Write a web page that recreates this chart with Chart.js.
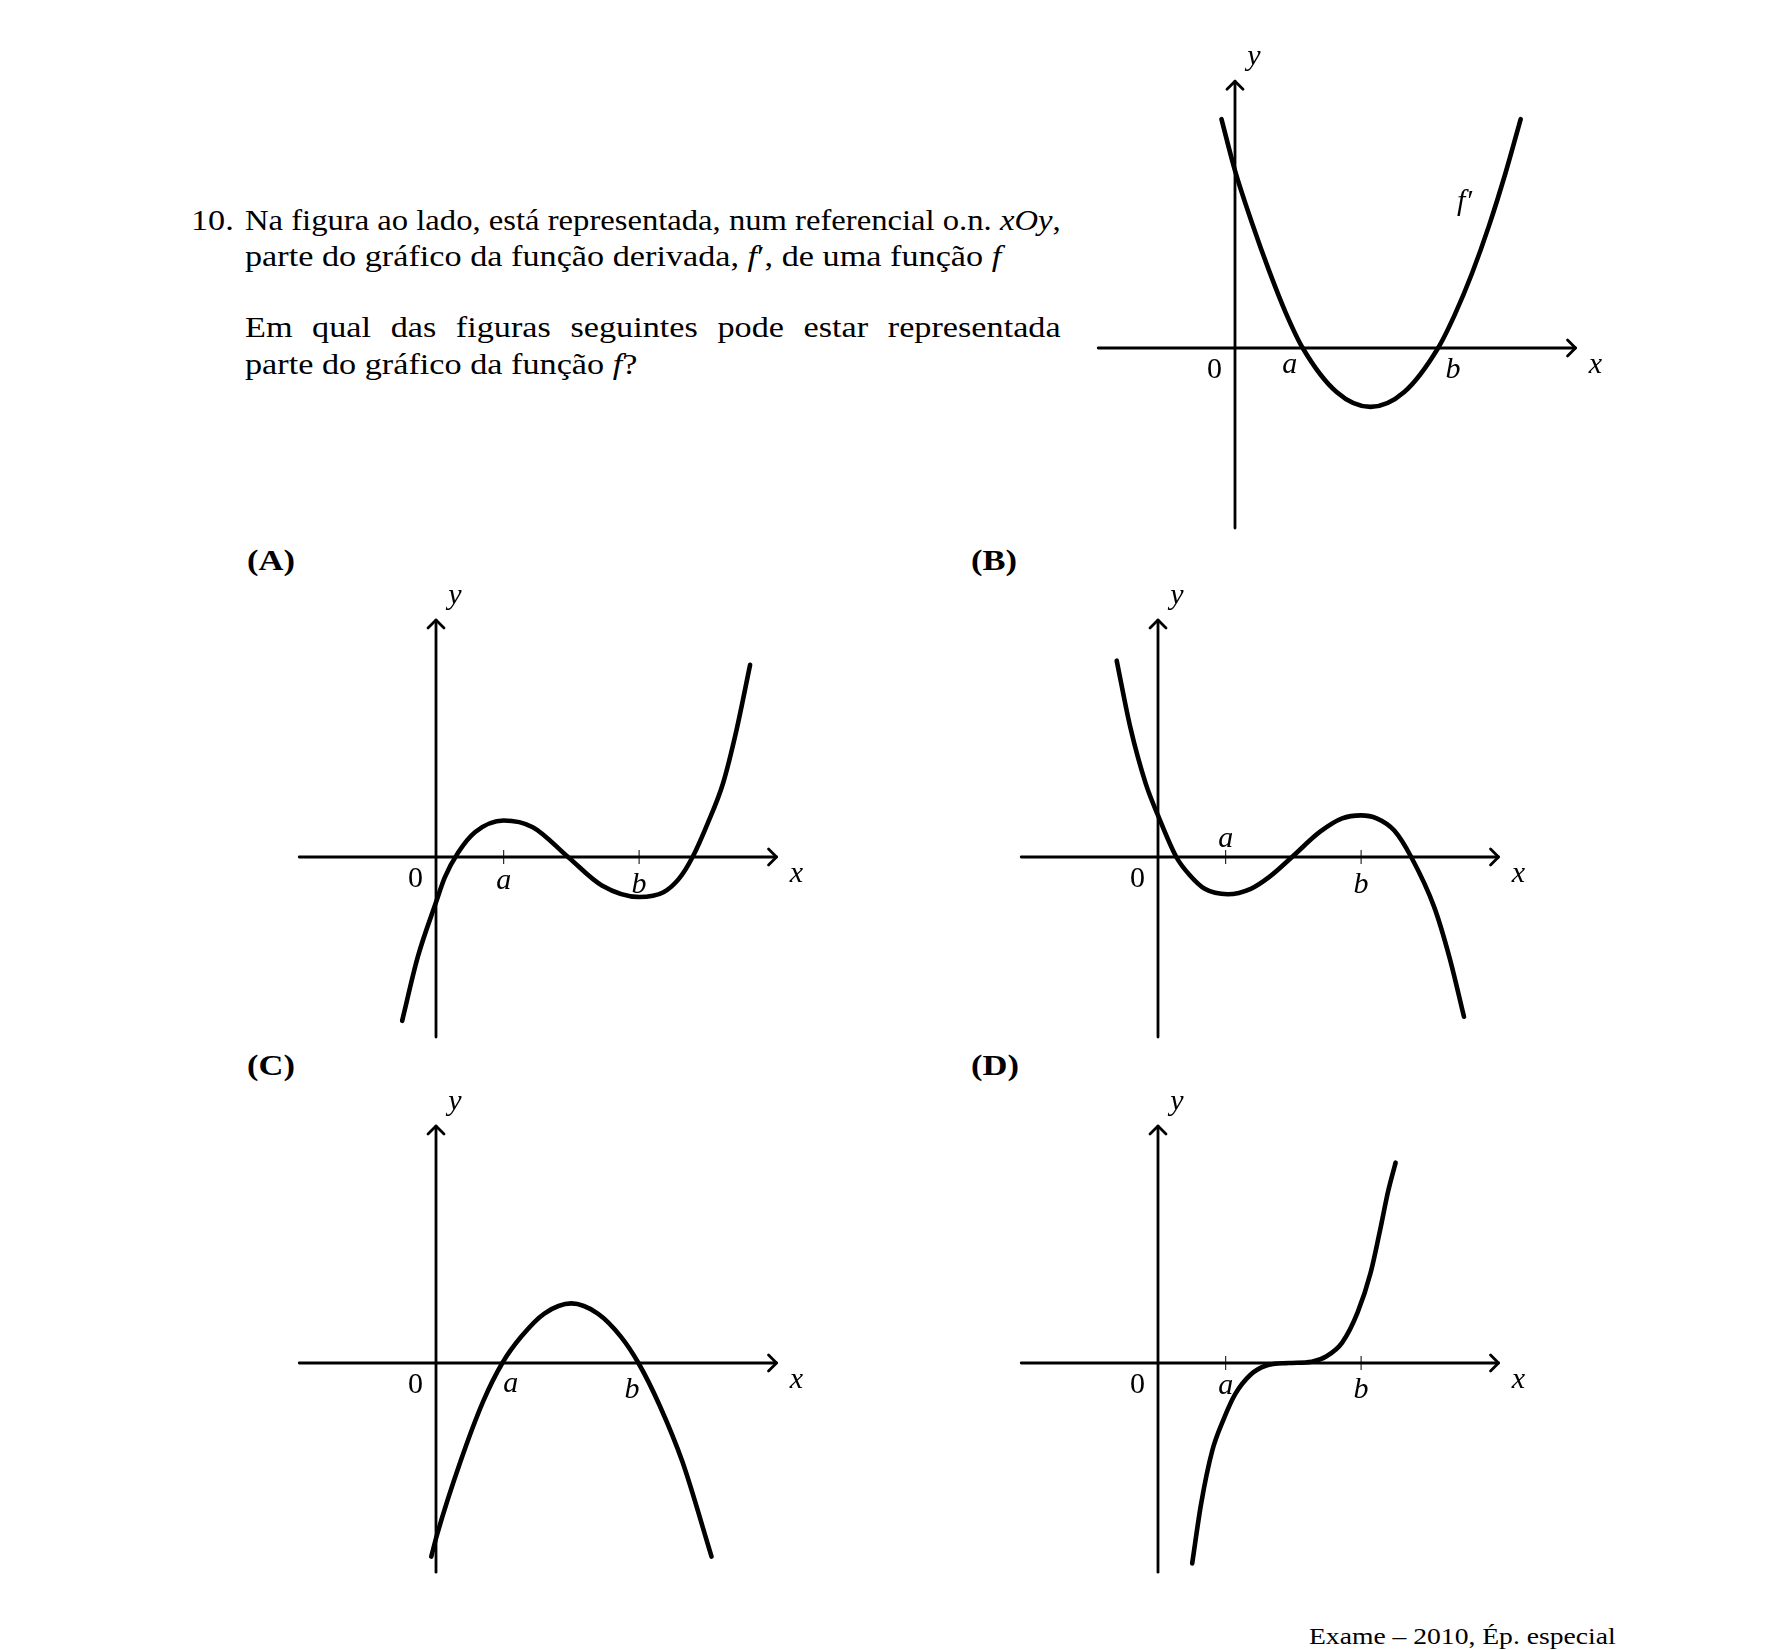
<!DOCTYPE html>
<html>
<head>
<meta charset="utf-8">
<script src="https://cdn.jsdelivr.net/npm/chart.js@4.4.1/dist/chart.umd.min.js"></script>
<style>
html, body { margin: 0; padding: 0; background: #fff; }
body { width: 1785px; height: 1650px; position: relative; overflow: hidden;
       font-family: "Liberation Serif", "Times New Roman", serif; color: #000; }
.ln { position: absolute; font-size: 29px; line-height: 29px; white-space: nowrap;
      transform-origin: 0 0; transform: scaleX(1.18); }
.jf { display: inline-block; }
.opt { position: absolute; font-weight: bold; font-size: 30px; line-height: 30px;
       transform-origin: 0 0; transform: scaleX(1.15); }
.foot { position: absolute; font-size: 24px; line-height: 24px; white-space: nowrap;
        transform-origin: 0 0; transform: scaleX(1.15); }
canvas { position: absolute; }
</style>
</head>
<body>

<div class="ln" style="left:191px; top:206px;">10.</div>
<div class="ln jf" data-w="816" style="left:245px; top:206px;">Na figura ao lado, está representada, num referencial o.n. <i>xOy</i>,</div>
<div class="ln" style="left:245px; top:242px;">parte do gráfico da função derivada, <i>f</i>′, de uma função <i>f</i></div>
<div class="ln jf" data-w="816" style="left:245px; top:313px;">Em qual das figuras seguintes pode estar representada</div>
<div class="ln" style="left:245px; top:350px;">parte do gráfico da função <i>f</i>?</div>

<div class="opt" style="left:247px; top:545px;">(A)</div>
<div class="opt" style="left:971px; top:545px;">(B)</div>
<div class="opt" style="left:247px; top:1050px;">(C)</div>
<div class="opt" style="left:971px; top:1050px;">(D)</div>

<div class="foot" style="left:1309px; top:1624px;">Exame – 2010, Ép. especial</div>

<canvas id="gTop"></canvas>
<canvas id="gA"></canvas>
<canvas id="gB"></canvas>
<canvas id="gC"></canvas>
<canvas id="gD"></canvas>

<script>
// f' (graph at the top right)
const fpX = [-0.2, 0, 0.25, 0.5, 0.75, 1, 1.5, 2, 2.5, 3, 3.25, 3.5, 3.75, 4, 4.22];
const fpY = [3.38, 2.62, 1.85, 1.15, 0.52, 0, -0.65, -0.87, -0.65, 0, 0.5, 1.1, 1.8, 2.6, 3.38];

// option (A)
const aX = [-0.5, -0.27, 0, 0.13, 0.33, 0.58, 1, 1.43, 1.95, 2.45, 3.0, 3.36, 3.59, 3.79, 4.01, 4.24, 4.44, 4.64];
const aY = [-2.42, -1.48, -0.67, -0.3, 0.07, 0.37, 0.54, 0.44, 0, -0.42, -0.59, -0.52, -0.32, 0, 0.49, 1.09, 1.88, 2.84];

// option (B)
const bX = [-0.61, -0.41, -0.18, 0, 0.27, 0.47, 0.69, 1.03, 1.37, 1.65, 1.98, 2.39, 2.72, 3.0, 3.23, 3.49, 3.74, 4.08, 4.31, 4.52];
const bY = [2.9, 1.92, 1.08, 0.615, 0, -0.27, -0.47, -0.55, -0.47, -0.29, 0, 0.37, 0.57, 0.615, 0.57, 0.39, 0, -0.74, -1.5, -2.36];

// option (C)
const cX = [-0.07, 0.02, 0.36, 0.7, 0.98, 1.26, 1.6, 2.0, 2.39, 2.73, 2.99, 3.3, 3.64, 4.07];
const cY = [-2.86, -2.52, -1.46, -0.56, 0, 0.39, 0.73, 0.88, 0.73, 0.39, 0, -0.62, -1.46, -2.86];

// option (D)
const dX = [0.505, 0.635, 0.8, 0.97, 1.14, 1.37, 1.59, 1.93, 2.27, 2.49, 2.72, 2.95, 3.14, 3.28, 3.4, 3.51];
const dY = [-2.96, -2.09, -1.3, -0.83, -0.46, -0.17, -0.04, 0, 0.02, 0.1, 0.3, 0.75, 1.33, 1.96, 2.54, 2.96];

const tickValues = [1, 3];
const tickLabels = ['a', 'b'];
const xAxisRange = [-2.02, 5.03];

const UNIT = 67.7;   // pixels per unit, same on both axes
const PAD_L = 180, PAD_T = 320, W = 640, H = 560;
const TEXT_SCALE = 1.18;

// justified lines: spread with word spacing, or narrow the line if it is too long
document.querySelectorAll('.jf').forEach(el => {
  const target = parseFloat(el.dataset.w);
  const natural = el.offsetWidth;
  const spaces = (el.textContent.match(/ /g) || []).length;
  if (natural * TEXT_SCALE > target) {
    el.style.transform = 'scaleX(' + (target / natural) + ')';
  } else {
    el.style.wordSpacing = ((target / TEXT_SCALE - natural) / spaces) + 'px';
  }
});

const graphs = [
  { id: 'gTop', ox: 1234.5, oy: 348.3, yRange: [-2.66, 3.94], xs: fpX, ys: fpY, ticks: false,
    ab: [[-13, 25], [15, 30]], extra: { text: 'f′', dx: 229.5, dy: -138 } },
  { id: 'gA', ox: 435.5, oy: 856.7, yRange: [-2.66, 3.5], xs: aX, ys: aY, ticks: true,
    ab: [[0, 32], [0, 36]] },
  { id: 'gB', ox: 1158, oy: 856.7, yRange: [-2.66, 3.5], xs: bX, ys: bY, ticks: true,
    ab: [[0, -10], [0, 36]] },
  { id: 'gC', ox: 435.5, oy: 1362.5, yRange: [-3.09, 3.5], xs: cX, ys: cY, ticks: false,
    ab: [[7, 29], [-7, 35]] },
  { id: 'gD', ox: 1158, oy: 1362.5, yRange: [-3.09, 3.5], xs: dX, ys: dY, ticks: true,
    ab: [[0, 31], [0, 35]] }
];

function chevron(ctx, tx, ty, dir) {
  ctx.beginPath();
  if (dir === 'right') {
    ctx.moveTo(tx - 8, ty - 8); ctx.lineTo(tx, ty); ctx.lineTo(tx - 8, ty + 8);
  } else {
    ctx.moveTo(tx - 8, ty + 8); ctx.lineTo(tx, ty); ctx.lineTo(tx + 8, ty + 8);
  }
  ctx.stroke();
}

function axesPlugin(g) {
  return {
    id: 'axes_' + g.id,
    beforeDatasetsDraw(chart) {
      const ctx = chart.ctx;
      const X = v => chart.scales.x.getPixelForValue(v);
      const Y = v => chart.scales.y.getPixelForValue(v);
      ctx.save();
      ctx.strokeStyle = '#000';
      ctx.fillStyle = '#000';
      ctx.lineWidth = 2.8;
      ctx.lineCap = 'round';
      ctx.lineJoin = 'round';

      ctx.beginPath();
      ctx.moveTo(X(xAxisRange[0]), Y(0));
      ctx.lineTo(X(xAxisRange[1]), Y(0));
      ctx.stroke();
      ctx.beginPath();
      ctx.moveTo(X(0), Y(g.yRange[0]));
      ctx.lineTo(X(0), Y(g.yRange[1]));
      ctx.stroke();
      chevron(ctx, X(xAxisRange[1]), Y(0), 'right');
      chevron(ctx, X(0), Y(g.yRange[1]), 'up');

      if (g.ticks) {
        ctx.lineWidth = 1;
        ctx.lineCap = 'butt';
        tickValues.forEach(v => {
          ctx.beginPath();
          ctx.moveTo(X(v), Y(0) - 7);
          ctx.lineTo(X(v), Y(0) + 7);
          ctx.stroke();
        });
      }

      ctx.textAlign = 'center';
      ctx.textBaseline = 'alphabetic';
      ctx.font = '30px "Liberation Serif"';
      ctx.fillText('0', X(0) - 20.5, Y(0) + 30);
      ctx.font = 'italic 30px "Liberation Serif"';
      ctx.fillText('y', X(0) + 19, Y(g.yRange[1]) - 16);
      ctx.fillText('x', X(xAxisRange[1]) + 20, Y(0) + 25);
      tickValues.forEach((v, i) => {
        ctx.fillText(tickLabels[i], X(v) + g.ab[i][0], Y(0) + g.ab[i][1]);
      });
      if (g.extra) {
        ctx.fillText(g.extra.text, X(0) + g.extra.dx, Y(0) + g.extra.dy);
      }
      ctx.restore();
    }
  };
}

graphs.forEach(g => {
  const cv = document.getElementById(g.id);
  cv.width = W;
  cv.height = H;
  cv.style.left = (g.ox - PAD_L) + 'px';
  cv.style.top = (g.oy - PAD_T) + 'px';
  new Chart(cv.getContext('2d'), {
    type: 'scatter',
    data: {
      datasets: [{
        data: g.xs.map((x, i) => ({ x: x, y: g.ys[i] })),
        showLine: true,
        borderColor: '#000',
        borderWidth: 4.6,
        borderCapStyle: 'round',
        pointRadius: 0,
        cubicInterpolationMode: 'monotone',
        fill: false
      }]
    },
    options: {
      responsive: false,
      animation: false,
      devicePixelRatio: 1,
      events: [],
      layout: { padding: 0 },
      plugins: { legend: { display: false }, tooltip: { enabled: false } },
      scales: {
        x: { type: 'linear', display: false, min: -PAD_L / UNIT, max: (W - PAD_L) / UNIT },
        y: { type: 'linear', display: false, min: -(H - PAD_T) / UNIT, max: PAD_T / UNIT }
      }
    },
    plugins: [axesPlugin(g)]
  });
});
</script>
</body>
</html>
